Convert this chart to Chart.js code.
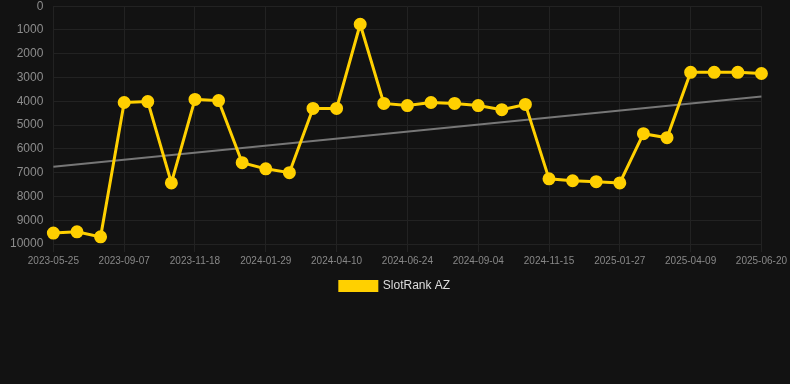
<!DOCTYPE html>
<html>
<head>
<meta charset="utf-8">
<script src="https://cdn.jsdelivr.net/npm/chart.js@4/dist/chart.umd.min.js"></script>
<style>
  html, body { margin: 0; padding: 0; background: #121212; overflow: hidden; }
  #wrap { width: 790px; height: 395px; position: relative; margin-top: -11px; }
</style>
</head>
<body>
<div id="wrap"><canvas id="rank_chart"></canvas></div>
<script>
// Dates of each rank snapshot (only every third one is labelled on the axis)
const dates = [
  '2023-05-25', '2023-06-29', '2023-08-03', '2023-09-07', '2023-10-01', '2023-10-25',
  '2023-11-18', '2023-12-12', '2024-01-05', '2024-01-29', '2024-02-22', '2024-03-17',
  '2024-04-10', '2024-05-05', '2024-05-30', '2024-06-24', '2024-07-18', '2024-08-11',
  '2024-09-04', '2024-09-28', '2024-10-22', '2024-11-15', '2024-12-09', '2025-01-03',
  '2025-01-27', '2025-02-20', '2025-03-16', '2025-04-09', '2025-05-03', '2025-05-27',
  '2025-06-20'
]
// Rank values
const rankAZ = [
  9540, 9490, 9700, 4050, 4010, 7430, 3920, 3970, 6580, 6840, 7000, 4300,
  4300, 760, 4090, 4180, 4050, 4090, 4180, 4350, 4130, 7260, 7340, 7380,
  7430, 5360, 5530, 2780, 2780, 2780, 2830
]
// Trend line, only the two ends are drawn
const trend = [6750].concat(Array(29).fill(null), [3800])
const yTicks = [0, 1000, 2000, 3000, 4000, 5000, 6000, 7000, 8000, 9000, 10000]

let ctx = document.getElementById('rank_chart')
new Chart(ctx, {
  type: 'line',
  data: {
    labels: dates,
    datasets: [{
      label: 'SlotRank AZ',
      data: rankAZ,
      borderColor: '#ffd000',
      backgroundColor: '#ffd000',
      pointBackgroundColor: '#ffd000',
      pointBorderColor: '#ffd000',
      borderWidth: 3,
      pointRadius: 5,
      tension: 0
    }, {
      label: 'trend',
      data: trend,
      spanGaps: true,
      borderColor: '#777777',
      borderWidth: 2,
      pointRadius: 0,
      tension: 0
    }]
  },
  options: {
    responsive: true,
    maintainAspectRatio: false,
    animation: false,
    layout: { padding: { left: 0, right: 0, top: 0, bottom: 82 } },
    plugins: {
      legend: {
        position: 'bottom',
        labels: {
          color: '#dddddd',
          font: { family: 'Arial, Liberation Sans, sans-serif', size: 12 },
          boxWidth: 37,
          boxHeight: 9,
          padding: 10,
          filter: item => item.text !== 'trend'
        }
      },
      tooltip: { enabled: false }
    },
    scales: {
      x: {
        grid: {
          color: c => (c.index % 3 === 0 ? '#222222' : 'transparent'),
          tickColor: c => (c.index % 3 === 0 ? '#222222' : 'transparent')
        },
        border: { color: '#222222' },
        ticks: {
          color: '#888888',
          font: { family: 'Arial, Liberation Sans, sans-serif', size: 10 },
          autoSkip: false,
          maxRotation: 0,
          callback: function (val, i) { return i % 3 === 0 ? dates[i] : '' }
        }
      },
      y: {
        reverse: true,
        min: 0,
        max: 10000,
        afterBuildTicks: axis => { axis.ticks = yTicks.map(v => ({ value: v })) },
        grid: { color: '#222222', drawTicks: false },
        border: { color: '#222222' },
        ticks: {
          color: '#8c8c8c',
          padding: 10,
          font: { family: 'Arial, Liberation Sans, sans-serif', size: 12 },
          callback: v => String(v)
        }
      }
    }
  }
})
</script>
</body>
</html>
